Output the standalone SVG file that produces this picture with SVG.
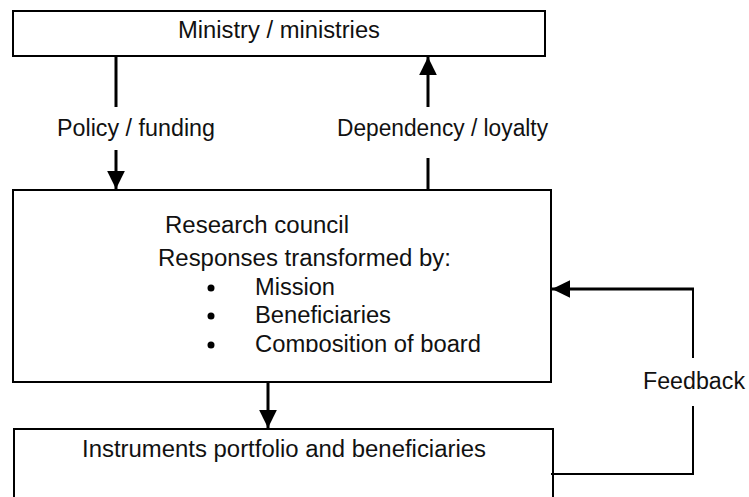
<svg xmlns="http://www.w3.org/2000/svg" width="749" height="497" viewBox="0 0 749 497">
<style>
  .box { fill: #ffffff; stroke: #000000; stroke-width: 2; }
  .t { font-family: "Liberation Sans", Arial, sans-serif; font-size: 23px; fill: #111111; }
  .ln { stroke: #000000; stroke-width: 3; fill: none; }
  .thin { stroke: #000000; stroke-width: 2; fill: none; }
</style>
<defs>
  <marker id="ah" markerWidth="6" markerHeight="6" refX="5.6" refY="2.75" orient="auto" markerUnits="strokeWidth" viewBox="0 0 5.6 5.5">
    <path d="M0,0 L5.6,2.75 L0,5.5 Z" fill="#000000"/>
  </marker>
  <clipPath id="clipComp"><rect x="0" y="0" width="749" height="352"/></clipPath>
</defs>
<rect width="749" height="497" fill="#ffffff"/>

<g id="ministry">
  <rect class="box" x="13" y="11" width="532" height="45"/>
  <text class="t" x="178" y="38" textLength="202" lengthAdjust="spacingAndGlyphs">Ministry / ministries</text>
</g>

<g id="research-council">
  <rect class="box" x="13" y="190" width="538" height="192"/>
  <text class="t" x="165" y="233" textLength="184" lengthAdjust="spacingAndGlyphs">Research council</text>
  <text class="t" x="158" y="266" textLength="293" lengthAdjust="spacingAndGlyphs">Responses transformed by:</text>
  <circle cx="211" cy="288" r="3.5" fill="#000000"/>
  <text class="t" x="255" y="295" textLength="80" lengthAdjust="spacingAndGlyphs">Mission</text>
  <circle cx="211" cy="316" r="3.5" fill="#000000"/>
  <text class="t" x="255" y="323" textLength="136" lengthAdjust="spacingAndGlyphs">Beneficiaries</text>
  <circle cx="211" cy="345" r="3.5" fill="#000000"/>
  <text class="t" x="255" y="352" textLength="226" lengthAdjust="spacingAndGlyphs" clip-path="url(#clipComp)">Composition of board</text>
</g>

<g id="instruments">
  <rect class="box" x="14" y="429" width="539" height="80"/>
  <text class="t" x="82" y="457" textLength="404" lengthAdjust="spacingAndGlyphs">Instruments portfolio and beneficiaries</text>
</g>

<g id="connectors">
  <!-- Policy / funding -->
  <line class="ln" x1="116" y1="56" x2="116" y2="107"/>
  <line class="ln" x1="116" y1="150" x2="116" y2="189" marker-end="url(#ah)"/>
  <text class="t" x="57" y="136" textLength="158" lengthAdjust="spacingAndGlyphs">Policy / funding</text>
  <!-- Dependency / loyalty -->
  <line class="ln" x1="428" y1="190" x2="428" y2="158"/>
  <line class="ln" x1="428" y1="107" x2="428" y2="57" marker-end="url(#ah)"/>
  <text class="t" x="337" y="136" textLength="211" lengthAdjust="spacingAndGlyphs">Dependency / loyalty</text>
  <!-- Research council to instruments -->
  <line class="ln" x1="268" y1="382" x2="268" y2="428" marker-end="url(#ah)"/>
  <!-- Feedback -->
  <polyline class="thin" points="551,474 693,474 693,406"/>
  <line class="thin" x1="693" y1="358" x2="693" y2="289"/>
  <line class="ln" x1="694" y1="289" x2="552" y2="289" marker-end="url(#ah)"/>
  <text class="t" x="643" y="389" textLength="102" lengthAdjust="spacingAndGlyphs">Feedback</text>
</g>
</svg>
